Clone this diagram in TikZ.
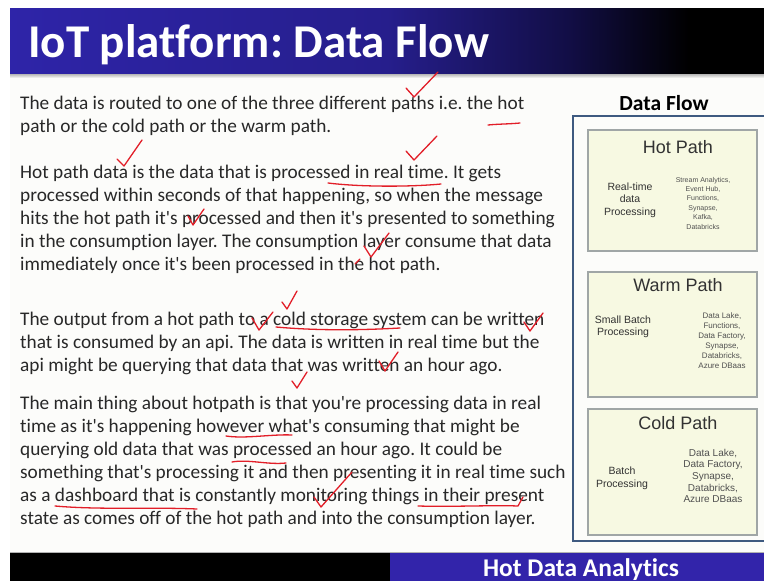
\documentclass[tikz,border=0pt]{standalone}
\usepackage{fontspec}
\newfontfamily\bodyfont{Carlito}[Ligatures=NoCommon]
\newfontfamily\arialfont{Liberation Sans}
\usetikzlibrary{calc}

\definecolor{titleblue}{RGB}{46,36,168}
\definecolor{titlemid}{RGB}{38,30,140}
\definecolor{titledark}{RGB}{18,14,70}
\definecolor{footblue}{RGB}{50,36,170}
\definecolor{pagebg}{RGB}{252,252,250}
\definecolor{bodytext}{RGB}{40,40,40}
\definecolor{panelframe}{RGB}{62,90,128}
\definecolor{pathfill}{RGB}{247,249,226}
\definecolor{pathframe}{RGB}{160,166,166}
\definecolor{pathtext}{RGB}{50,50,50}
\definecolor{smalltext}{RGB}{80,80,80}
\definecolor{inkred}{RGB}{226,30,40}

\pgfdeclarehorizontalshading{titlegrad}{100bp}{%
  color(0bp)=(titleblue); color(25bp)=(titleblue); color(50bp)=(titlemid);
  color(62bp)=(titledark); color(70bp)=(black); color(75bp)=(black); color(100bp)=(black)}

\frenchspacing
\tikzset{
  bodyline/.style={anchor=base west, inner sep=0pt, text=bodytext,
    font=\bodyfont\frenchspacing\fontsize{19.3}{23}\selectfont},
  pathbox/.style={draw=pathframe, fill=pathfill, line width=1.1pt},
  pathtitle/.style={anchor=base, inner sep=0pt, text=pathtext,
    font=\arialfont\fontsize{18}{20}\selectfont},
  pathleft/.style={align=center, inner sep=0pt, text=pathtext},
  pathright/.style={align=center, inner sep=0pt, text=smalltext},
  ink/.style={draw=inkred, line width=1.3pt, line cap=round, line join=round}
}

\begin{document}
\begin{tikzpicture}[x=1pt,y=-1pt]
\useasboundingbox (0,0) rectangle (764,581);
\fill[white] (0,0) rectangle (764,581);

% page body
\fill[pagebg] (10,73) rectangle (764,553);

% title bar with its shadow
\shade[top color=gray!70, bottom color=pagebg] (10,73) rectangle (764,78);
\shade[shading=titlegrad] (10,8) rectangle (764,73);
\node[anchor=base west, inner sep=0pt, text=white,
  font=\bodyfont\bfseries\fontsize{47}{50}\selectfont] (title) at (28,57) {IoT platform: Data Flow};

% footer bar
\draw[gray!60, line width=0.8pt] (10,552.5) -- (764,552.5);
\fill[black] (10,553) rectangle (390,581);
\fill[footblue] (390,553) rectangle (764,581);
\node[anchor=base, inner sep=0pt, text=white,
  font=\bodyfont\bfseries\fontsize{25.5}{28}\selectfont] (footer) at (581,576) {Hot Data Analytics};

% body text
\node[bodyline] (p1a) at (20,109) {The data is routed to one of the three different paths i.e. the hot};
\node[bodyline] (p1b) at (20,132) {path or the cold path or the warm path.};

\node[bodyline] (p2a) at (20,178) {Hot path data is the data that is processed in real time. It gets};
\node[bodyline] (p2b) at (20,201) {processed within seconds of that happening, so when the message};
\node[bodyline] (p2c) at (20,224) {hits the hot path it's processed and then it's presented to something};
\node[bodyline] (p2d) at (20,247) {in the consumption layer. The consumption layer consume that data};
\node[bodyline] (p2e) at (20,270) {immediately once it's been processed in the hot path.};

\node[bodyline] (p3a) at (20,325) {The output from a hot path to a cold storage system can be written};
\node[bodyline] (p3b) at (20,348) {that is consumed by an api. The data is written in real time but the};
\node[bodyline] (p3c) at (20,371) {api might be querying that data that was written an hour ago.};

\node[bodyline] (p4a) at (20,409) {The main thing about hotpath is that you're processing data in real};
\node[bodyline] (p4b) at (20,432) {time as it's happening however what's consuming that might be};
\node[bodyline] (p4c) at (20,455) {querying old data that was processed an hour ago. It could be};
\node[bodyline] (p4d) at (20,478) {something that's processing it and then presenting it in real time such};
\node[bodyline] (p4e) at (20,501) {as a dashboard that is constantly monitoring things in their present};
\node[bodyline] (p4f) at (20,524) {state as comes off of the hot path and into the consumption layer.};

% side panel
\node[anchor=base, inner sep=0pt, text=black,
  font=\bodyfont\bfseries\fontsize{21.5}{24}\selectfont] (flowhead) at (664,110) {Data Flow};
\draw[panelframe, line width=2pt] (573,116) rectangle (768,541);

\draw[pathbox] (588,130) rectangle (757,251);
\node[pathtitle] (hot) at (678,153.5) {Hot Path};
\node[pathleft, font=\arialfont\fontsize{10.5}{12.3}\selectfont] (hotl) at (630,200) {Real-time\\data\\Processing};
\node[pathright, font=\arialfont\fontsize{7}{9.4}\selectfont] (hotr) at (703,203) {Stream Analytics,\\Event Hub,\\Functions,\\Synapse,\\Kafka,\\Databricks};

\draw[pathbox] (588,272) rectangle (757,397);
\node[pathtitle] (warm) at (678,291.5) {Warm Path};
\node[pathleft, font=\arialfont\fontsize{10.5}{11.5}\selectfont] (warml) at (623,327) {Small Batch\\Processing};
\node[pathright, font=\arialfont\fontsize{8}{10}\selectfont] (warmr) at (722,341) {Data Lake,\\Functions,\\Data Factory,\\Synapse,\\Databricks,\\Azure DBaas};

\draw[pathbox] (588,409) rectangle (757,535);
\node[pathtitle] (cold) at (678,429.5) {Cold Path};
\node[pathleft, font=\arialfont\fontsize{10.5}{13}\selectfont] (coldl) at (622,478) {Batch\\Processing};
\node[pathright, font=\arialfont\fontsize{10}{11.7}\selectfont] (coldr) at (713,476) {Data Lake,\\Data Factory,\\Synapse,\\Databricks,\\Azure DBaas};

% red pen marks, first two paragraphs
\draw[ink] (406,88) -- (414,97) -- (438,72);
\draw[ink] (488,125) .. controls (498,124) and (510,124) .. (520,123);
\draw[ink] (117,159) -- (124,166) -- (142,140);
\draw[ink] (406,151) -- (414,160) -- (437,136);
\draw[ink] (328,183) .. controls (360,187) and (410,187) .. (441,184);
\draw[ink] (188,216) -- (193,225) -- (204,209);
\draw[ink] (364,246) -- (371,257) -- (389,233);
\draw[ink] (355,264) -- (360,259);

% third paragraph
\draw[ink] (252,318) -- (259,330) -- (273,312);
\draw[ink] (282,302) -- (287,309) -- (297,291);
\draw[ink] (276,327) .. controls (320,331) and (365,330) .. (400,328);
\draw[ink] (524,322) -- (530,331) -- (543,313);
\draw[ink] (379,361) -- (385,371) -- (398,352);

% fourth paragraph
\draw[ink] (292,381) -- (297,388) -- (307,372);
\draw[ink] (226,436) .. controls (245,439) and (272,434) .. (292,435);
\draw[ink] (232,462) .. controls (248,459) and (268,465) .. (286,463);
\draw[ink] (314,497) -- (321,507) -- (352,472);
\draw[ink] (55,506) .. controls (100,510) and (150,507) .. (197,509);
\draw[ink] (418,506) .. controls (453,507) and (493,505) .. (518,506) -- (523,497);
\end{tikzpicture}
\end{document}
